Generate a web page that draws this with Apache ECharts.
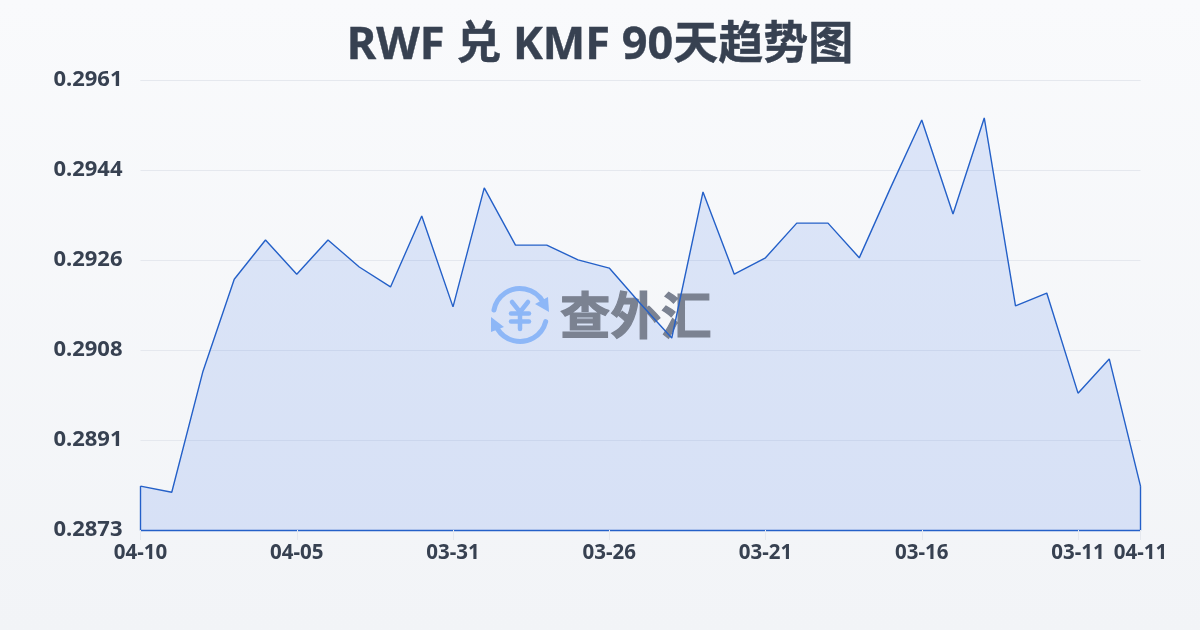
<!DOCTYPE html>
<html><head><meta charset="utf-8">
<style>html,body{margin:0;padding:0;width:1200px;height:630px;overflow:hidden;background:linear-gradient(180deg,#f9fafc,#f2f4f7)}#c{width:1200px;height:630px}</style>
<script src="https://cdn.jsdelivr.net/npm/echarts@6/dist/echarts.min.js"></script>
</head><body><div id="c"></div>
<script>
const titleText = 'RWF 兑 KMF 90天趋势图';
const categories = ['04-10','04-09','04-08','04-07','04-06','04-05','04-04','04-03','04-02','04-01','03-31','03-30','03-29','03-28','03-27','03-26','03-25','03-24','03-23','03-22','03-21','03-20','03-19','03-18','03-17','03-16','03-15','03-14','03-13','03-12','03-11','03-10','04-11'];
const rates = [0.28816,0.28804,0.29041,0.29221,0.29298,0.29231,0.29298,0.29245,0.29206,0.29345,0.29167,0.29400,0.29288,0.29288,0.29259,0.29243,0.29173,0.29106,0.29392,0.29231,0.29263,0.29331,0.29331,0.29263,0.29400,0.29533,0.29349,0.29537,0.29169,0.29194,0.28998,0.29065,0.28816];
const axisMin = 0.2873;
const axisStep = axisMin / 163;
const axisSteps = 5;
const ink = '#374151', lineBlue = '#2460c8', grid = '#e5e8ee', mark = '#8db7f7', wordmark = '#7b8291';
const chart = echarts.init(document.getElementById('c'), null, {renderer:'canvas'});
const last = categories.length - 1;
const uiFont = '"Noto Sans","Noto Sans CJK SC"';
chart.setOption({
  backgroundColor: 'transparent',
  animation: false,
  title: {text: titleText, left: 'center', top: 19, textStyle: {fontFamily: uiFont, fontSize: 45, fontWeight: 'bold', color: ink, textBorderColor: ink, textBorderWidth: 0.4}},
  grid: {left: 140.5, right: 59.5, top: 80, bottom: 100},
  xAxis: {type: 'category', boundaryGap: false, data: categories,
    axisLine: {show: true, lineStyle: {color: lineBlue, width: 1.4}},
    axisTick: {show: true, length: 10, lineStyle: {color: grid}, interval: (i) => i % 5 === 0 || i === last},
    splitLine: {show: false},
    axisLabel: {interval: (i) => i % 5 === 0 || i === last, margin: 13, fontFamily: uiFont, fontSize: 20.5, fontWeight: 'bold', color: ink, hideOverlap: false}},
  yAxis: {type: 'value', min: axisMin, max: axisMin + axisStep * axisSteps, interval: axisStep,
    axisLine: {show: false}, axisTick: {show: false},
    splitLine: {lineStyle: {color: grid, width: 1}},
    axisLabel: {margin: 18, formatter: (v) => v.toFixed(4), fontFamily: uiFont, fontSize: 22, fontWeight: 'bold', color: ink}},
  graphic: [
    {type: 'group', silent: true, children: [
      {type: 'arc', z: 10, shape: {cx: 520, cy: 315, r: 26.5, startAngle: -2.95, endAngle: -0.5}, style: {stroke: mark, lineWidth: 5, fill: null, lineCap: 'round'}},
      {type: 'arc', z: 10, shape: {cx: 520, cy: 315, r: 26.5, startAngle: 0.25, endAngle: 2.6}, style: {stroke: mark, lineWidth: 5, fill: null, lineCap: 'round'}},
      {type: 'polygon', z: 10, shape: {points: [[549,312],[548,297],[535,304]]}, style: {fill: mark}},
      {type: 'polygon', z: 10, shape: {points: [[491,317],[491,332],[504,327]]}, style: {fill: mark}},
      {type: 'polyline', z: 10, shape: {points: [[512,302],[520,312],[528,302]]}, style: {stroke: mark, lineWidth: 4.5, fill: null, lineCap: 'round', lineJoin: 'round'}},
      {type: 'line', z: 10, shape: {x1: 511, y1: 313.5, x2: 529, y2: 313.5}, style: {stroke: mark, lineWidth: 4.5, lineCap: 'round'}},
      {type: 'line', z: 10, shape: {x1: 511, y1: 321.5, x2: 529, y2: 321.5}, style: {stroke: mark, lineWidth: 4.5, lineCap: 'round'}},
      {type: 'line', z: 10, shape: {x1: 520, y1: 312, x2: 520, y2: 329}, style: {stroke: mark, lineWidth: 4.5, lineCap: 'round'}},
      {type: 'text', z: 10, style: {text: '查外汇', x: 560, y: 315, align: 'left', verticalAlign: 'middle', fontFamily: '"Noto Sans CJK SC"', fontWeight: 'bold', fontSize: 50.5, fill: wordmark, stroke: wordmark, lineWidth: 1.2}}
    ]}
  ],
  series: [
    {type: 'line', z: 5, data: rates, showSymbol: false, lineStyle: {width: 0, opacity: 0},
      areaStyle: {color: 'rgba(37,99,235,0.19)'}},
    {type: 'line', z: 12, data: rates, showSymbol: false,
      lineStyle: {color: lineBlue, width: 1.4},
      markLine: {silent: true, symbol: 'none', label: {show: false}, lineStyle: {color: lineBlue, width: 1.4, type: 'solid'},
        data: [
          [{coord: [categories[0], axisMin]}, {coord: [categories[0], rates[0]]}],
          [{coord: [categories[last], axisMin]}, {coord: [categories[last], rates[last]]}]
        ]}
    }]
});
</script></body></html>
